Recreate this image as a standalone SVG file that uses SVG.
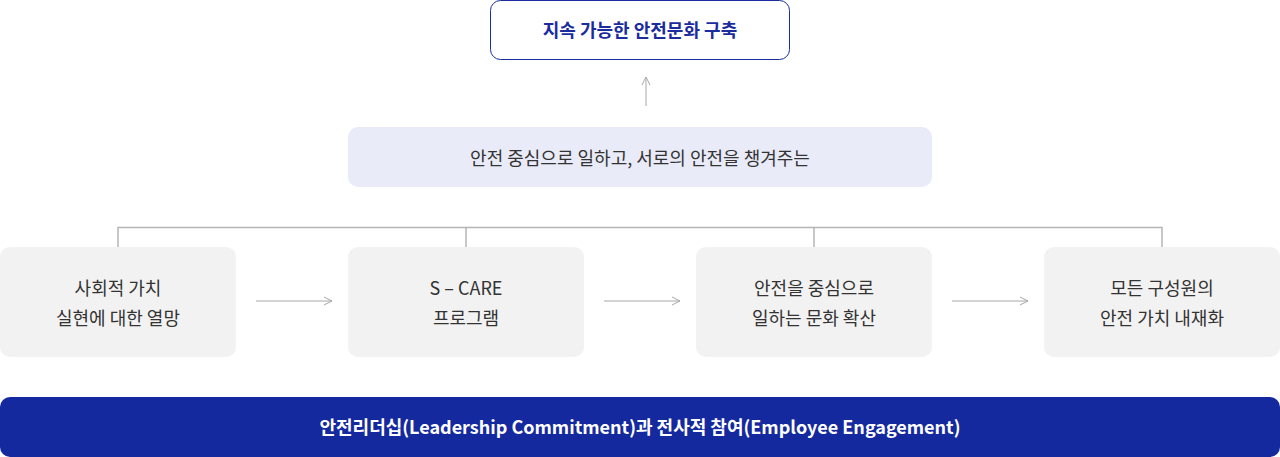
<svg xmlns="http://www.w3.org/2000/svg" width="1280" height="457" viewBox="0 0 1280 457">
<style>
text{font-family:"Noto Sans CJK KR","Noto Sans",sans-serif;font-size:18px;text-anchor:middle;dominant-baseline:central}
.step rect{fill:#f2f2f2}
.step text{fill:#333}
.conn{stroke:#b5b5b5;stroke-width:1.5;fill:none}
.arr{stroke:#a8a8a8;stroke-width:1;fill:none}
</style>
<defs>
<marker id="ah" viewBox="0 0 10 10" refX="9" refY="5" markerWidth="10" markerHeight="10" markerUnits="userSpaceOnUse" orient="auto">
<path d="M1,1 L9,5 L1,9" fill="none" stroke="#a8a8a8" stroke-width="1"/>
</marker>
</defs>
<g id="connectors">
<line class="arr" x1="646" y1="106" x2="646" y2="77" marker-end="url(#ah)"/>
<path class="conn" d="M118,247 V227.5 H1162 V247 M466,227.5 V247 M814,227.5 V247"/>
<line class="arr" x1="256" y1="301" x2="332" y2="301" marker-end="url(#ah)"/>
<line class="arr" x1="604" y1="301" x2="680" y2="301" marker-end="url(#ah)"/>
<line class="arr" x1="952" y1="301" x2="1028" y2="301" marker-end="url(#ah)"/>
</g>
<g id="goal">
<rect x="490.5" y="0.5" width="299" height="59" rx="10" fill="#fff" stroke="#1a2c9e" stroke-width="1"/>
<text x="640" y="29" fill="#1a2c9e" font-weight="700">지속 가능한 안전문화 구축</text>
</g>
<g id="vision">
<rect x="348" y="127" width="584" height="60" rx="10" fill="#e9ebf8"/>
<text x="640" y="157" fill="#333">안전 중심으로 일하고, 서로의 안전을 챙겨주는</text>
</g>
<g id="step1" class="step">
<rect x="0" y="247" width="236" height="110" rx="10"/>
<text x="118" y="287">사회적 가치</text>
<text x="118" y="317">실현에 대한 열망</text>
</g>
<g id="step2" class="step">
<rect x="348" y="247" width="236" height="110" rx="10"/>
<text x="466" y="287">S – CARE</text>
<text x="466" y="317">프로그램</text>
</g>
<g id="step3" class="step">
<rect x="696" y="247" width="236" height="110" rx="10"/>
<text x="814" y="287">안전을 중심으로</text>
<text x="814" y="317">일하는 문화 확산</text>
</g>
<g id="step4" class="step">
<rect x="1044" y="247" width="236" height="110" rx="10"/>
<text x="1162" y="287">모든 구성원의</text>
<text x="1162" y="317">안전 가치 내재화</text>
</g>
<g id="base">
<rect x="0" y="397" width="1280" height="60" rx="10" fill="#15299f"/>
<text x="640" y="426" fill="#fff" font-weight="700">안전리더십(Leadership Commitment)과 전사적 참여(Employee Engagement)</text>
</g>
</svg>
